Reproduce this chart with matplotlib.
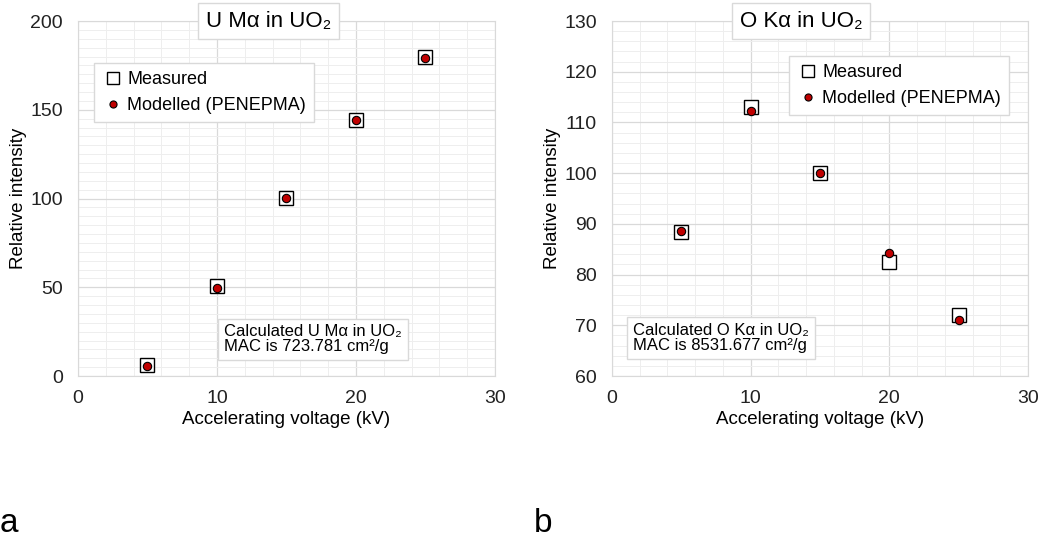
import matplotlib
matplotlib.use("Agg")
import matplotlib.pyplot as plt
from matplotlib.ticker import MultipleLocator

plt.rcParams['font.family'] = ['Liberation Sans', 'DejaVu Sans']

# accelerating voltages (kV)
voltage = [5, 10, 15, 20, 25]

# panel a: U Ma in UO2
u_measured = [6.2, 50.9, 100.1, 144.3, 179.5]
u_modelled = [5.6, 49.8, 100.1, 144.3, 179.3]

# panel b: O Ka in UO2
o_measured = [88.3, 113.0, 100.0, 82.4, 72.0]
o_modelled = [88.5, 112.3, 100.0, 84.2, 71.0]

titles = ['U M\u03b1 in UO\u2082', 'O K\u03b1 in UO\u2082']
notes = ['Calculated U M\u03b1 in UO\u2082\nMAC is 723.781 cm\u00b2/g',
         'Calculated O K\u03b1 in UO\u2082\nMAC is 8531.677 cm\u00b2/g']

GRID = '#d9d9d9'
MINOR = '#eeeeee'


def style_axes(ax, ylim, ymajor, yminor):
    ax.set_xlim(0, 30)
    ax.set_ylim(*ylim)
    ax.xaxis.set_major_locator(MultipleLocator(10))
    ax.xaxis.set_minor_locator(MultipleLocator(2))
    ax.yaxis.set_major_locator(MultipleLocator(ymajor))
    ax.yaxis.set_minor_locator(MultipleLocator(yminor))
    ax.grid(which='major', color=GRID, lw=0.9)
    ax.grid(which='minor', color=MINOR, lw=0.7)
    ax.set_axisbelow(True)
    for s in ax.spines.values():
        s.set_color(GRID)
    ax.tick_params(which='both', length=0, labelsize=14, colors='#222222')
    ax.tick_params(axis='x', pad=10)
    ax.tick_params(axis='y', pad=11)
    ax.set_xlabel('Accelerating voltage (kV)', fontsize=13.5, labelpad=3)
    ax.set_ylabel('Relative intensity', fontsize=13.5, labelpad=2)


def draw_points(ax, measured, modelled):
    ax.plot(voltage, measured, ls='none', marker='s', ms=9.5, mfc='white',
            mec='black', mew=1.0, label='Measured')
    ax.plot(voltage, modelled, ls='none', marker='o', ms=6, mfc='#c00000',
            mec='black', mew=0.8, label='Modelled (PENEPMA)')


def boxed(ax, x, y, s, size, ha='center', va='center'):
    ax.text(x, y, s, transform=ax.transAxes, fontsize=size, ha=ha, va=va,
            linespacing=1.0, zorder=5,
            bbox=dict(boxstyle='square,pad=0.35', fc='white', ec=GRID, lw=1))


fig = plt.figure(figsize=(10.41, 5.39), dpi=100)
ax1 = fig.add_axes([0.0749, 0.3024, 0.4006, 0.6586])
ax2 = fig.add_axes([0.5879, 0.3024, 0.3996, 0.6586])

style_axes(ax1, (0, 200), 50, 5)
draw_points(ax1, u_measured, u_modelled)
style_axes(ax2, (60, 130), 10, 2)
draw_points(ax2, o_measured, o_modelled)

boxed(ax1, 0.456, 1.0, titles[0], 16)
boxed(ax2, 0.455, 1.0, titles[1], 16)

for ax, anchor in ((ax1, (0.038, 0.882)), (ax2, (0.425, 0.901))):
    ax.legend(loc='upper left', bbox_to_anchor=anchor, fancybox=False,
              edgecolor=GRID, framealpha=1, fontsize=13, handletextpad=0.2,
              borderpad=0.45, labelspacing=0.5, borderaxespad=0,
              markerscale=0.85, handlelength=1.2)

boxed(ax1, 0.35, 0.103, notes[0], 12, ha='left')
boxed(ax2, 0.05, 0.108, notes[1], 12, ha='left')

fig.text(0.0, 0.028, 'a', fontsize=24, ha='left', va='center')
fig.text(0.513, 0.028, 'b', fontsize=24, ha='left', va='center')

fig.savefig('out.png', dpi=100)
